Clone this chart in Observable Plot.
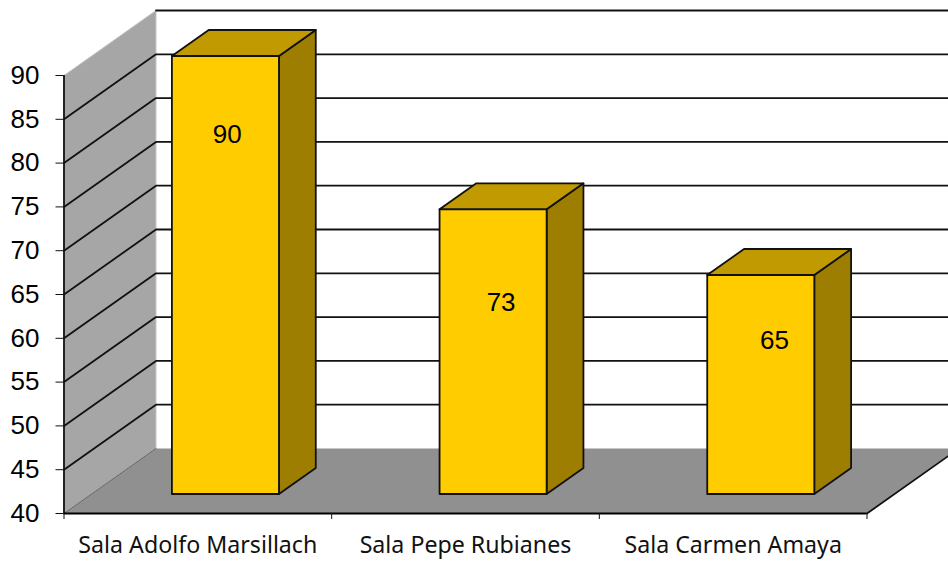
<!DOCTYPE html>
<html>
<head>
<meta charset="utf-8">
<script src="https://cdn.jsdelivr.net/npm/d3@7"></script>
<script src="https://cdn.jsdelivr.net/npm/@observablehq/plot@0.6"></script>
<style>
html,body{margin:0;padding:0;background:#fff}
svg{display:block}
</style>
</head>
<body>
<div id="chart"></div>
<script>
const categories = ["Sala Adolfo Marsillach", "Sala Pepe Rubianes", "Sala Carmen Amaya"];
const barValues = [90, 72.5, 65];
const barLabels = ["90", "73", "65"];
const labelAnchorX = [0.61, 1.633, 2.654];
const labelAnchorY = [83.3, 64.1, 59.7];
const yTicks = [40, 45, 50, 55, 60, 65, 70, 75, 80, 85, 90];

// oblique projection: depth 0 is the front plane, depth 1 the back wall
const kx = 92 / 267.67, ky = 65 / 8.76;
const P = (x, v, depth) => ({x: x + depth * kx, y: v + depth * ky});
const poly = (id, pts) => [...pts, pts[0]].map(p => ({id, ...p}));
const yMin = 40, yMax = 90, xEnd = 3;
const d0 = 0.3, d1 = 0.7, half = 0.2;

const wall = poly("wall", [P(0, yMin, 0), P(0, yMin, 1), P(0, yMax, 1), P(0, yMax, 0)]);
const floor = poly("floor", [P(0, yMin, 0), P(xEnd, yMin, 0), P(xEnd, yMin, 1), P(0, yMin, 1)]);
const floorEdge = [P(xEnd, yMin, 0), P(xEnd, yMin, 1)];
const wallFoot = [P(0, yMin, 0), P(0, yMin, 1)];
const grid = yTicks.filter(v => v > yMin).flatMap(v => {
  const back = [P(0, v, 1), P(xEnd, v, 1)];
  const pts = v < yMax ? [P(0, v, 0), ...back] : back;
  return pts.map(p => ({id: v, ...p}));
});
const fronts = [], sides = [], tops = [];
barValues.forEach((v, i) => {
  const a = i + 0.5 - half, b = i + 0.5 + half;
  fronts.push(...poly(i, [P(a, yMin, d0), P(b, yMin, d0), P(b, v, d0), P(a, v, d0)]));
  sides.push(...poly(i, [P(b, yMin, d0), P(b, yMin, d1), P(b, v, d1), P(b, v, d0)]));
  tops.push(...poly(i, [P(a, v, d0), P(b, v, d0), P(b, v, d1), P(a, v, d1)]));
});
const labelRows = barLabels.map((t, i) => ({t, x: labelAnchorX[i], y: labelAnchorY[i]}));
const ink = "#111";

const face = (data, fill) => Plot.line(data, {x: "x", y: "y", z: "id", fill, stroke: ink, strokeWidth: 1.8});

const chart = Plot.plot({
  width: 948, height: 561,
  marginLeft: 63.5, marginRight: 81.5, marginTop: 75, marginBottom: 48,
  style: {background: "#fff"},
  x: {type: "linear", domain: [0, xEnd]},
  y: {type: "linear", domain: [yMin, yMax]},
  marks: [
    Plot.line(wall, {x: "x", y: "y", z: "id", fill: "#a6a6a6", stroke: "#c4c4c4", strokeWidth: 1}),
    Plot.line(floor, {x: "x", y: "y", z: "id", fill: "#909090", stroke: "none"}),
    Plot.line(wallFoot, {x: "x", y: "y", stroke: "#666", strokeWidth: 1}),
    Plot.line(floorEdge, {x: "x", y: "y", stroke: ink, strokeWidth: 1.8}),
    Plot.line(grid, {x: "x", y: "y", z: "id", stroke: ink, strokeWidth: 1.8}),
    face(sides, "#9e7e00"),
    face(tops, "#c09a00"),
    face(fronts, "#ffcc00"),
    Plot.text(labelRows, {x: "x", y: "y", text: "t", fontSize: 26, fontFamily: "Liberation Sans", fill: "#000"}),
    Plot.ruleX([0], {y1: yMin, y2: yMax, stroke: ink, strokeWidth: 1.8}),
    Plot.ruleY([yMin], {x1: 0, x2: xEnd, stroke: "#000", strokeWidth: 2.2}),
    Plot.axisY({ticks: yTicks, tickSize: 8, tickPadding: 16.5, fontSize: 26, fontFamily: "Liberation Sans", stroke: ink, fill: "#000", label: null, tickFormat: d => String(d)}),
    Plot.axisX({ticks: d3.range(categories.length + 1), tickSize: 6, tickFormat: () => "", stroke: ink, label: null}),
    Plot.axisX({ticks: categories.map((_, i) => i + 0.5), tickSize: 0, tickPadding: 23, fontSize: 23.2, fontFamily: "Noto Sans", fill: "#111", label: null,
      tickFormat: d => categories[Math.floor(d)]})
  ]
});
document.getElementById("chart").append(chart);
</script>
</body>
</html>
